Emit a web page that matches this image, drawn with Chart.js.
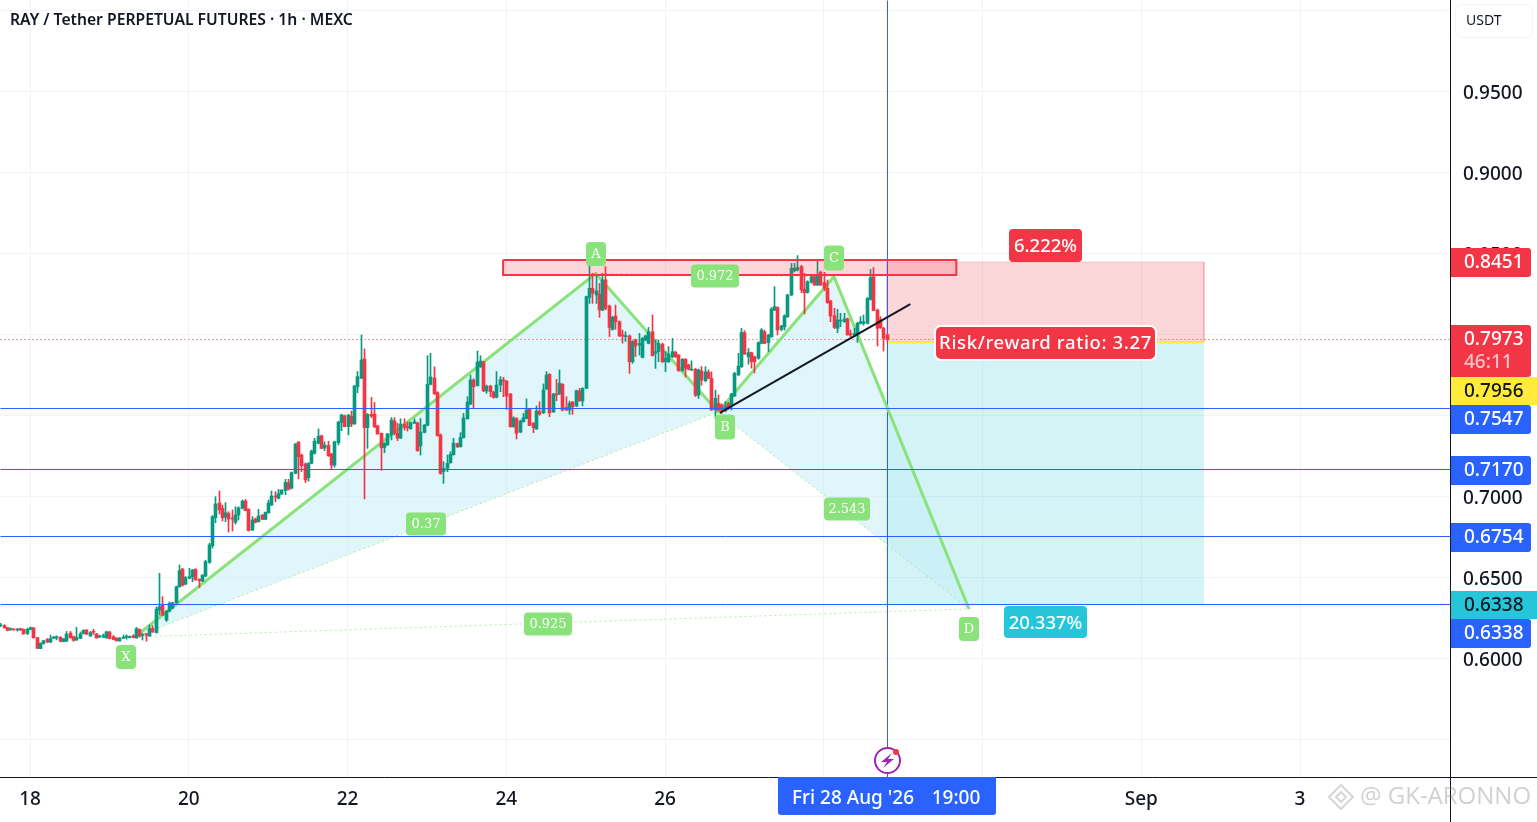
<!DOCTYPE html>
<html>
<head>
<meta charset="utf-8">
<title>RAY / Tether</title>
<script src="https://cdn.jsdelivr.net/npm/chart.js@4/dist/chart.umd.js"></script>
<style>
  html, body { margin: 0; padding: 0; background: #fff; overflow: hidden; }
  canvas { display: block; }
</style>
</head>
<body>
<canvas id="grafico" width="1537" height="822"></canvas>
<script>
// Velas de 1h, la primera es el 17 ago a las 15:00
const opens = [
  .6205,.6207,.6193,.6180,.6184,.6179,.6186,.6183,.6158,.6183,
  .6192,.6132,.6064,.6095,.6121,.6105,.6128,.6130,.6134,.6107,
  .6111,.6160,.6138,.6117,.6128,.6157,.6179,.6142,.6171,.6155,
  .6136,.6135,.6130,.6167,.6138,.6128,.6111,.6128,.6134,.6132,
  .6144,.6130,.6183,.6145,.6155,.6142,.6189,.6163,.6302,.6333,
  .6240,.6296,.6314,.6347,.6446,.6555,.6462,.6498,.6508,.6553,
  .6491,.6481,.6512,.6597,.6699,.6872,.6963,.6930,.6875,.6899,
  .6868,.6844,.6889,.6930,.6975,.6924,.6796,.6864,.6848,.6889,
  .6862,.6903,.6950,.7006,.6992,.7018,.7039,.7088,.7055,.7146,
  .7339,.7259,.7204,.7119,.7208,.7269,.7331,.7378,.7302,.7319,
  .7265,.7197,.7335,.7461,.7502,.7434,.7498,.7451,.7681,.7733,
  .7852,.7428,.7510,.7512,.7438,.7393,.7306,.7321,.7383,.7469,
  .7393,.7364,.7450,.7432,.7422,.7455,.7457,.7315,.7399,.7442,
  .7695,.7735,.7644,.7383,.7156,.7177,.7212,.7261,.7329,.7310,
  .7366,.7483,.7574,.7722,.7687,.7804,.7833,.7654,.7685,.7648,
  .7615,.7691,.7722,.7716,.7636,.7434,.7485,.7400,.7465,.7485,
  .7545,.7455,.7420,.7529,.7520,.7667,.7757,.7525,.7636,.7636,
  .7695,.7553,.7537,.7586,.7562,.7654,.7593,.7671,.8232,.8288,
  .8247,.8253,.8154,.8340,.8179,.8035,.8117,.8082,.7998,.7990,
  .7994,.7835,.7969,.7938,.7862,.7969,.7948,.8020,.7887,.7897,
  .7944,.7835,.7835,.7866,.7893,.7876,.7780,.7850,.7815,.7783,
  .7788,.7629,.7778,.7718,.7769,.7732,.7537,.7578,.7568,.7533,
  .7578,.7568,.7623,.7753,.7804,.8014,.7866,.7891,.7866,.7856,
  .7948,.8020,.7953,.7990,.8154,.8169,.8035,.8051,.8113,.8247,
  .8397,.8401,.8422,.8282,.8263,.8325,.8360,.8309,.8387,.8323,
  .8288,.8210,.8119,.8041,.8086,.8082,.8099,.8004,.8002,.8000,
  .8072,.8072,.8072,.8220,.8360,.8154,.8096,.8041,.8000
];
const closes = [
  .6208,.6192,.6176,.6183,.6180,.6183,.6181,.6155,.6184,.6193,
  .6131,.6066,.6097,.6113,.6105,.6125,.6134,.6138,.6110,.6124,
  .6154,.6130,.6115,.6134,.6155,.6177,.6153,.6163,.6165,.6130,
  .6144,.6144,.6167,.6126,.6120,.6113,.6130,.6134,.6140,.6140,
  .6132,.6187,.6142,.6152,.6147,.6187,.6166,.6308,.6323,.6271,
  .6296,.6343,.6347,.6446,.6545,.6456,.6502,.6508,.6549,.6488,
  .6483,.6518,.6601,.6704,.6879,.6957,.6920,.6872,.6903,.6864,
  .6864,.6889,.6932,.6975,.6916,.6792,.6858,.6844,.6883,.6862,
  .6905,.6963,.7006,.7000,.7020,.7043,.7090,.7047,.7150,.7327,
  .7249,.7193,.7105,.7208,.7284,.7345,.7374,.7300,.7321,.7255,
  .7197,.7341,.7463,.7506,.7434,.7506,.7451,.7685,.7743,.7846,
  .7428,.7510,.7500,.7434,.7389,.7304,.7331,.7389,.7475,.7397,
  .7364,.7450,.7430,.7428,.7459,.7465,.7286,.7401,.7444,.7695,
  .7741,.7636,.7379,.7146,.7177,.7208,.7263,.7333,.7310,.7368,
  .7488,.7586,.7722,.7681,.7833,.7839,.7656,.7685,.7650,.7615,
  .7691,.7724,.7716,.7623,.7434,.7488,.7393,.7469,.7490,.7537,
  .7442,.7428,.7531,.7512,.7661,.7753,.7520,.7636,.7630,.7702,
  .7537,.7537,.7578,.7557,.7656,.7595,.7671,.8237,.8288,.8257,
  .8273,.8154,.8340,.8165,.8047,.8109,.8082,.7994,.7994,.7996,
  .7835,.7959,.7932,.7948,.7979,.7994,.8020,.7872,.7897,.7948,
  .7835,.7856,.7883,.7897,.7866,.7780,.7850,.7794,.7788,.7788,
  .7629,.7784,.7722,.7773,.7732,.7537,.7609,.7537,.7537,.7563,
  .7547,.7636,.7763,.7808,.8016,.7883,.7891,.7835,.7835,.7953,
  .8031,.7948,.8000,.8160,.8175,.8031,.8056,.8119,.8247,.8412,
  .8412,.8416,.8278,.8261,.8329,.8360,.8309,.8370,.8309,.8288,
  .8200,.8117,.8047,.8093,.8092,.8099,.8000,.8000,.8010,.8072,
  .8082,.8082,.8226,.8354,.8150,.8041,.8045,.7979,.7973
];
const highs = [
  .6220,.6212,.6196,.6193,.6186,.6188,.6190,.6186,.6190,.6197,
  .6194,.6134,.6100,.6115,.6127,.6148,.6140,.6143,.6138,.6126,
  .6170,.6170,.6142,.6195,.6167,.6180,.6181,.6170,.6183,.6158,
  .6147,.6155,.6172,.6170,.6145,.6132,.6132,.6148,.6150,.6142,
  .6150,.6195,.6186,.6158,.6158,.6210,.6205,.6322,.6529,.6385,
  .6300,.6353,.6351,.6450,.6580,.6560,.6510,.6560,.6553,.6558,
  .6495,.6520,.6610,.6715,.6885,.7002,.7037,.6950,.6965,.6909,
  .6920,.6940,.6940,.6981,.6985,.6928,.6879,.6870,.6924,.6892,
  .6908,.6981,.7037,.7033,.7047,.7045,.7109,.7109,.7155,.7330,
  .7342,.7265,.7210,.7212,.7290,.7362,.7420,.7382,.7341,.7344,
  .7270,.7345,.7468,.7512,.7506,.7510,.7531,.7690,.7774,.8000,
  .7914,.7515,.7615,.7584,.7444,.7395,.7335,.7393,.7490,.7490,
  .7455,.7483,.7483,.7463,.7463,.7483,.7461,.7485,.7448,.7872,
  .7887,.7804,.7650,.7390,.7218,.7259,.7280,.7362,.7333,.7397,
  .7516,.7619,.7753,.7730,.7901,.7872,.7838,.7691,.7690,.7652,
  .7774,.7743,.7739,.7720,.7640,.7495,.7490,.7475,.7516,.7605,
  .7548,.7460,.7562,.7588,.7698,.7774,.7762,.7640,.7726,.7784,
  .7700,.7619,.7592,.7590,.7660,.7670,.7675,.8240,.8533,.8381,
  .8370,.8319,.8381,.8422,.8185,.8115,.8185,.8087,.8030,.8020,
  .8000,.7965,.7975,.8010,.7985,.8000,.8047,.8123,.7969,.7969,
  .7950,.7897,.7928,.7979,.7900,.7880,.7855,.7855,.7820,.7841,
  .7795,.7790,.7805,.7804,.7785,.7773,.7660,.7630,.7575,.7590,
  .7585,.7640,.7770,.7887,.8041,.8027,.7917,.7895,.7870,.7958,
  .8040,.8030,.8005,.8170,.8298,.8175,.8060,.8125,.8252,.8442,
  .8442,.8490,.8430,.8381,.8335,.8375,.8370,.8459,.8395,.8387,
  .8340,.8215,.8165,.8158,.8134,.8134,.8105,.8031,.8041,.8078,
  .8113,.8123,.8232,.8405,.8416,.8160,.8113,.8048,.8010
];
const lows = [
  .6200,.6190,.6174,.6177,.6178,.6172,.6175,.6152,.6150,.6180,
  .6128,.6064,.6063,.6092,.6101,.6100,.6126,.6118,.6105,.6105,
  .6108,.6130,.6110,.6115,.6125,.6155,.6152,.6140,.6152,.6128,
  .6132,.6133,.6128,.6124,.6118,.6110,.6110,.6126,.6122,.6130,
  .6130,.6128,.6135,.6117,.6110,.6140,.6165,.6160,.6271,.6269,
  .6232,.6290,.6310,.6343,.6443,.6450,.6458,.6495,.6477,.6486,
  .6440,.6478,.6508,.6590,.6685,.6841,.6895,.6852,.6848,.6784,
  .6790,.6833,.6858,.6926,.6916,.6790,.6794,.6840,.6845,.6860,
  .6860,.6900,.6948,.6970,.6988,.7016,.7014,.7044,.7050,.7143,
  .7112,.7157,.7089,.7098,.7205,.7265,.7328,.7298,.7286,.7250,
  .7173,.7183,.7321,.7409,.7434,.7383,.7434,.7448,.7644,.7730,
  .6988,.7300,.7490,.7428,.7388,.7165,.7273,.7319,.7352,.7383,
  .7348,.7360,.7413,.7407,.7418,.7453,.7282,.7259,.7395,.7440,
  .7692,.7634,.7375,.7140,.7084,.7156,.7208,.7258,.7305,.7308,
  .7364,.7480,.7570,.7547,.7685,.7800,.7650,.7640,.7619,.7610,
  .7612,.7650,.7619,.7541,.7430,.7430,.7358,.7398,.7462,.7483,
  .7440,.7397,.7418,.7505,.7515,.7664,.7496,.7522,.7594,.7632,
  .7530,.7533,.7510,.7510,.7558,.7590,.7562,.7668,.8195,.8195,
  .8195,.8109,.8150,.8155,.7990,.8030,.8035,.7990,.7950,.7960,
  .7763,.7825,.7866,.7876,.7858,.7965,.7945,.7870,.7794,.7835,
  .7830,.7773,.7830,.7860,.7860,.7775,.7775,.7740,.7785,.7780,
  .7620,.7609,.7690,.7710,.7730,.7535,.7485,.7530,.7515,.7525,
  .7540,.7537,.7620,.7750,.7800,.7880,.7820,.7795,.7766,.7850,
  .7945,.7948,.7897,.7985,.8150,.8000,.8025,.8030,.8108,.8242,
  .8390,.8395,.8261,.8130,.8258,.8320,.8305,.8305,.8305,.8273,
  .8195,.8082,.8040,.8014,.8051,.8078,.8000,.7990,.7990,.7955,
  .8068,.8060,.8068,.8215,.8150,.7932,.8040,.7901,.7965
];

// Ejes: dias contados desde el 1 de agosto (Sep = 32, 3 = 34)
const xTicks = [18, 20, 22, 24, 26, 28, 30, 32, 34];
const xLabels = ['18', '20', '22', '24', '26', '28', '30', 'Sep', '3'];
const yTicks = [0.55, 0.60, 0.65, 0.70, 0.75, 0.80, 0.85, 0.90, 0.95, 1.00];
const yLabels = ['', '0.6000', '0.6500', '0.7000', '0.7500', '0.8000', '0.8500', '0.9000', '0.9500', ''];
const xRange = [17.622, 35.889];
const yRange = [0.52716, 1.00679];

// Patron XABCD
const patronDias = [19.32, 25.127, 26.668, 28.129, 29.83];
const patronPrecios = [0.6136, 0.8379, 0.7525, 0.8360, 0.6309];

// Lineas y zonas dibujadas a mano
const nivelesAzules = [0.7547, 0.7170, 0.6754, 0.6338];
const precioActual = 0.7973;
const tendenciaDias = [26.69, 29.09];
const tendenciaPrecios = [0.7519, 0.8191];
const zonaDias = [23.96, 29.67];
const zonaPrecios = [0.8463, 0.8370];
const posicionDias = [28.79, 32.79];
const entrada = 0.7956;
const stop = 0.8451;
const objetivo = 0.6338;
const cruceDia = 28.80;

const VERDE = '#089981', ROJO = '#f23645', AZUL = '#2962ff', PATRON = '#89e27a', CIAN = '#26c6da';
const FUENTE = '"Noto Sans", sans-serif';
const FUENTE_PATRON = '"DejaVu Serif", serif';

// Puntos de cada vela: el dia sale de su posicion en la serie horaria
const velas = opens.map((o, i) => ({ dia: 18 + (i - 9) / 24, o, c: closes[i], h: highs[i], l: lows[i] }));
const colores = velas.map(v => v.c >= v.o ? VERDE : ROJO);

function puntos(dias, precios) {
  return dias.map((d, i) => ({ x: d, y: precios[i] }));
}
function linea(data, color, width, orden, extra) {
  return Object.assign({ type: 'line', data, borderColor: color, borderWidth: width, pointRadius: 0, tension: 0, fill: false, order: orden }, extra || {});
}
function poligono(data, color, orden, borde, ancho) {
  return linea(data, borde || 'rgba(0,0,0,0)', ancho || 0, orden, { fill: 'shape', backgroundColor: color });
}
function caja(d, p1, p2) {
  return [{ x: d[0], y: p1 }, { x: d[1], y: p1 }, { x: d[1], y: p2 }, { x: d[0], y: p2 }, { x: d[0], y: p1 }];
}
const P = puntos(patronDias, patronPrecios);
const PUNTEADO = 'rgba(137,226,122,0.65)';

const datasets = [
  // velas
  { type: 'bar', data: velas.map(v => ({ x: v.dia, y: [v.o, v.c] })), backgroundColor: colores, barThickness: 3, minBarLength: 1, stack: 'v', grouped: false, order: 9 },
  { type: 'bar', data: velas.map(v => ({ x: v.dia, y: [v.l, v.h] })), backgroundColor: colores, barThickness: 1, stack: 'v', grouped: false, order: 10 },
  // triangulos del patron
  poligono([P[0], P[1], P[2], P[0]], 'rgba(196,238,245,0.5)', 32),
  poligono([P[2], P[3], P[4], P[2]], 'rgba(196,238,245,0.5)', 31),
  // posicion corta
  poligono(caja(posicionDias, stop, entrada), 'rgba(242,54,69,0.2)', 33, 'rgba(242,54,69,0.2)', 1),
  poligono(caja(posicionDias, entrada, objetivo), 'rgba(34,193,214,0.2)', 33),
  linea(puntos(posicionDias, [entrada, entrada]), '#ffeb3b', 2, 27),
  // lineas del patron
  linea([P[0], P[1], P[2], P[3], P[4]], PATRON, 3, 20),
  linea([P[0], P[2]], PUNTEADO, 1, 21, { borderDash: [2, 3] }),
  linea([P[2], P[4]], PUNTEADO, 1, 21, { borderDash: [2, 3] }),
  linea([P[0], P[4]], PUNTEADO, 1, 21, { borderDash: [2, 3] }),
  linea([P[1], P[3]], PUNTEADO, 1, 21, { borderDash: [2, 3] }),
  // precio actual y cruz
  linea(puntos(xRange, [precioActual, precioActual]), ROJO, 1, 24, { borderDash: [1, 3], nitida: true }),
  linea(puntos([cruceDia, cruceDia], yRange), AZUL, 1, 22, { nitida: true }),
  // zona roja y tendencia, encima de las velas
  poligono(caja(zonaDias, zonaPrecios[0], zonaPrecios[1]), 'rgba(242,54,69,0.2)', 6, ROJO, 2),
  linea(puntos(tendenciaDias, tendenciaPrecios), '#131722', 2, 5)
];
nivelesAzules.forEach(n => {
  datasets.push(linea(puntos(xRange, [n, n]), AZUL, 1, 8, { nitida: true }));
});

function caja2d(ctx, x, y, w, h, r, fondo) {
  ctx.beginPath();
  ctx.roundRect(x, y, w, h, r);
  ctx.fillStyle = fondo;
  ctx.fill();
}
// Las fuentes quedan 2px altas con baseline middle
function texto(ctx, t, x, y, color, fuente, alinear) {
  ctx.font = fuente;
  ctx.fillStyle = color;
  ctx.textAlign = alinear || 'center';
  ctx.textBaseline = 'middle';
  ctx.fillText(t, x, y + 2);
}

// Etiquetas, marcas del eje y marca de agua
const decoracion = {
  id: 'decoracion',
  afterDatasetsUpdate(chart) {
    // velas y lineas finas alineadas al pixel, como en el original
    chart.getDatasetMeta(0).data.forEach(b => { b.x = Math.round(b.x) + 0.5; });
    chart.getDatasetMeta(1).data.forEach(b => { b.x = Math.round(b.x) + 0.5; });
    chart.data.datasets.forEach((d, i) => {
      if (!d.nitida) return;
      chart.getDatasetMeta(i).data.forEach(p => {
        p.x = Math.floor(p.x) + 0.5;
        p.y = Math.floor(p.y) + 0.5;
      });
    });
  },
  afterDraw(chart) {
    const ctx = chart.ctx;
    ctx.save();

    // marco de los ejes
    ctx.strokeStyle = '#131722';
    ctx.lineWidth = 1;
    ctx.beginPath();
    ctx.moveTo(1450.5, 0); ctx.lineTo(1450.5, 822);
    ctx.moveTo(0, 777.5); ctx.lineTo(1537, 777.5);
    ctx.stroke();

    // titulo
    texto(ctx, 'RAY / Tether PERPETUAL FUTURES · 1h · MEXC', 10, 19, '#131722', '600 15.7px ' + FUENTE, 'left');

    // selector de moneda
    ctx.beginPath();
    ctx.roundRect(1455.5, 4.5, 77, 33, 6);
    ctx.strokeStyle = '#f0f3fa';
    ctx.stroke();
    texto(ctx, 'USDT', 1466, 19, '#131722', '14px ' + FUENTE, 'left');

    // etiquetas del patron
    const fp = '13px ' + FUENTE_PATRON;
    [['A', 596, 254, 20, 24], ['C', 834, 258, 20, 25], ['B', 725, 427, 20, 25], ['X', 126, 657, 20, 24], ['D', 969, 629, 20, 24],
     ['0.972', 715, 276, 48, 23], ['0.37', 426, 524, 40, 23], ['2.543', 847, 509, 46, 23], ['0.925', 548, 624, 48, 23]].forEach(e => {
      caja2d(ctx, e[1] - e[3] / 2, e[2] - e[4] / 2, e[3], e[4], 4, PATRON);
      texto(ctx, e[0], e[1], e[2] - 1, '#fff', fp);
    });

    // porcentajes y ratio
    const ft = '500 18.5px ' + FUENTE;
    caja2d(ctx, 1009, 229, 73, 33, 4, ROJO);
    texto(ctx, '6.222%', 1045.5, 245, '#fff', ft);
    caja2d(ctx, 1004, 606, 83, 32, 4, CIAN);
    texto(ctx, '20.337%', 1045.5, 622, '#fff', ft);
    caja2d(ctx, 934, 325, 223, 36, 7, '#fff');
    caja2d(ctx, 936, 327, 219, 32, 5, ROJO);
    ctx.letterSpacing = '0.64px';
    texto(ctx, 'Risk/reward ratio: 3.27', 1045.5, 342, '#fff', ft);
    ctx.letterSpacing = '0px';

    // marcas del eje de precios
    const r = [0, 3, 3, 0];
    const fe = '500 19px ' + FUENTE;
    caja2d(ctx, 1451, 248, 80, 29, r, ROJO);
    texto(ctx, '0.8451', 1464, 261, '#fff', fe, 'left');
    caja2d(ctx, 1451, 325, 80, 52, r, ROJO);
    texto(ctx, '0.7973', 1464, 338, '#fff', fe, 'left');
    texto(ctx, '46:11', 1464, 361, 'rgba(255,255,255,0.7)', fe, 'left');
    ctx.fillStyle = '#ffeb3b';
    ctx.fillRect(1451, 377, 86, 28);
    texto(ctx, '0.7956', 1464, 390, '#131722', fe, 'left');
    caja2d(ctx, 1451, 405, 80, 29, r, AZUL);
    texto(ctx, '0.7547', 1464, 418, '#fff', fe, 'left');
    caja2d(ctx, 1451, 456, 80, 29, r, AZUL);
    texto(ctx, '0.7170', 1464, 469, '#fff', fe, 'left');
    caja2d(ctx, 1451, 523, 80, 29, r, AZUL);
    texto(ctx, '0.6754', 1464, 536, '#fff', fe, 'left');
    ctx.fillStyle = CIAN;
    ctx.fillRect(1451, 591, 86, 28);
    texto(ctx, '0.6338', 1464, 604, '#131722', fe, 'left');
    caja2d(ctx, 1451, 619, 80, 29, r, AZUL);
    texto(ctx, '0.6338', 1464, 632, '#fff', fe, 'left');

    // fecha de la cruz
    caja2d(ctx, 778, 777, 218, 38, [0, 0, 3, 3], AZUL);
    texto(ctx, "Fri 28 Aug '26", 853, 797, '#fff', fe);
    texto(ctx, '19:00', 956, 797, '#fff', fe);

    // icono del rayo
    ctx.beginPath();
    ctx.arc(887.5, 760.5, 12.5, 0, Math.PI * 2);
    ctx.fillStyle = '#fff';
    ctx.fill();
    ctx.lineWidth = 2;
    ctx.strokeStyle = '#9c27b0';
    ctx.stroke();
    ctx.beginPath();
    ctx.moveTo(892, 753); ctx.lineTo(881, 762); ctx.lineTo(887, 762); ctx.lineTo(883, 768);
    ctx.lineTo(894, 759); ctx.lineTo(888, 759); ctx.closePath();
    ctx.fillStyle = '#9c27b0';
    ctx.fill();
    ctx.beginPath();
    ctx.arc(896, 752, 3, 0, Math.PI * 2);
    ctx.fillStyle = ROJO;
    ctx.fill();

    // marca de agua
    ctx.globalAlpha = 0.35;
    ctx.strokeStyle = '#8a8a8a';
    ctx.lineWidth = 2;
    ctx.beginPath();
    ctx.moveTo(1341, 785); ctx.lineTo(1353, 797); ctx.lineTo(1341, 809); ctx.lineTo(1329, 797); ctx.closePath();
    ctx.moveTo(1341, 792); ctx.lineTo(1346, 797); ctx.lineTo(1341, 802); ctx.lineTo(1336, 797); ctx.closePath();
    ctx.stroke();
    texto(ctx, '@ GK-ARONNO', 1360, 795, '#777', '24px "Open Sans", sans-serif', 'left');
    ctx.restore();
  }
};

// El area del grafico ocupa todo hasta los ejes, sin margenes
function sinMargen(s) {
  s.paddingLeft = s.paddingRight = s.paddingTop = s.paddingBottom = 0;
}

new Chart(document.getElementById('grafico'), {
  type: 'bar',
  data: { datasets },
  plugins: [decoracion],
  options: {
    responsive: false,
    animation: false,
    devicePixelRatio: 1,
    layout: { padding: 0 },
    plugins: { legend: { display: false }, tooltip: { enabled: false } },
    scales: {
      x: {
        type: 'linear',
        offset: false,
        min: xRange[0],
        max: xRange[1],
        afterBuildTicks: s => { s.ticks = xTicks.map(v => ({ value: v })); },
        afterFit: s => { s.height = 45; sinMargen(s); },
        grid: { color: '#f0f3fa', drawTicks: false, offset: false },
        border: { display: false },
        ticks: {
          autoSkip: false,
          maxRotation: 0,
          padding: 11,
          color: '#131722',
          font: { family: '"Noto Sans"', size: 19, weight: 500 },
          callback: v => xLabels[xTicks.indexOf(v)]
        }
      },
      y: {
        type: 'linear',
        position: 'right',
        stacked: false,
        min: yRange[0],
        max: yRange[1],
        afterBuildTicks: s => { s.ticks = yTicks.map(v => ({ value: v })); },
        afterFit: s => { s.width = 87; sinMargen(s); },
        grid: { color: '#f0f3fa', drawTicks: false },
        border: { display: false },
        ticks: {
          padding: 13,
          labelOffset: 2,
          color: '#131722',
          font: { family: '"Noto Sans"', size: 19, weight: 500 },
          callback: v => yLabels[yTicks.indexOf(v)]
        }
      }
    }
  }
});
</script>
</body>
</html>
